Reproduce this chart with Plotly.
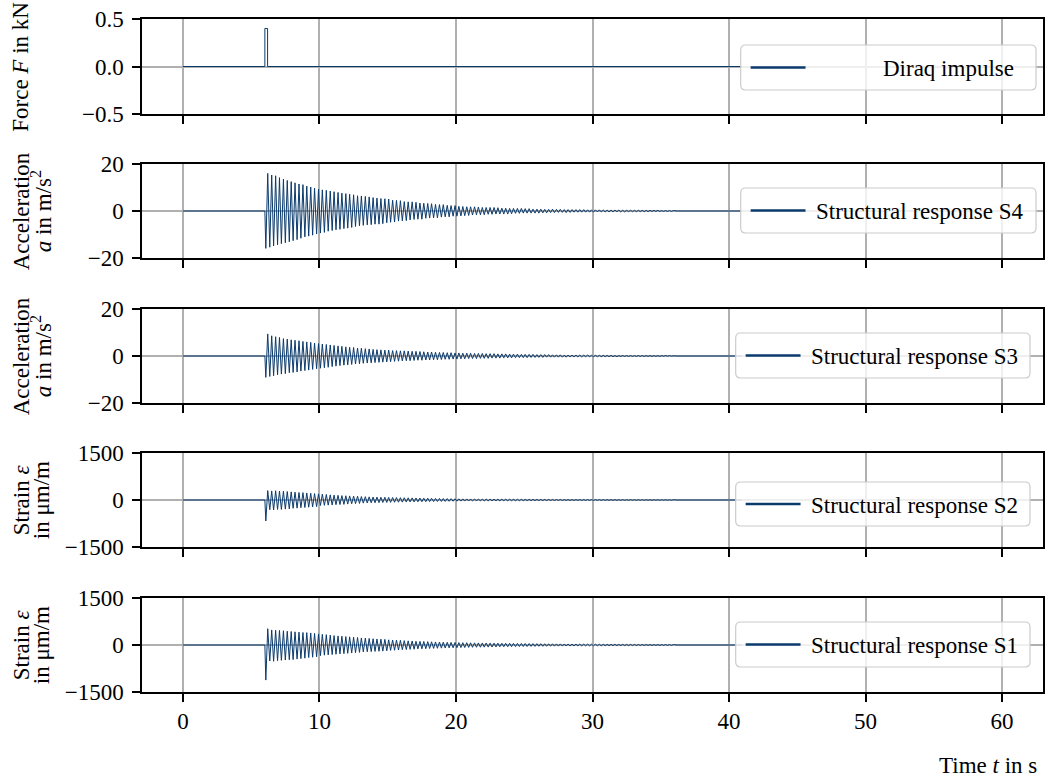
import plotly.graph_objects as go
from plotly.subplots import make_subplots

# ---------------- data ----------------
# time of pre-impulse segment, of the oscillation extrema and of the record end (s)
t_pre = [0.0, 6.0]
t_peaks = [
    6.07, 6.21, 6.36, 6.50, 6.64, 6.79, 6.93,
    7.07, 7.21, 7.36, 7.50, 7.64, 7.79, 7.93,
    8.07, 8.21, 8.36, 8.50, 8.64, 8.79, 8.93,
    9.07, 9.21, 9.36, 9.50, 9.64, 9.79, 9.93,
    10.07, 10.21, 10.36, 10.50, 10.64, 10.79, 10.93,
    11.07, 11.21, 11.36, 11.50, 11.64, 11.79, 11.93,
    12.07, 12.21, 12.36, 12.50, 12.64, 12.79, 12.93,
    13.07, 13.21, 13.36, 13.50, 13.64, 13.79, 13.93,
    14.07, 14.21, 14.36, 14.50, 14.64, 14.79, 14.93,
    15.07, 15.21, 15.36, 15.50, 15.64, 15.79, 15.93,
    16.07, 16.21, 16.36, 16.50, 16.64, 16.79, 16.93,
    17.07, 17.21, 17.36, 17.50, 17.64, 17.79, 17.93,
    18.07, 18.21, 18.36, 18.50, 18.64, 18.79, 18.93,
    19.07, 19.21, 19.36, 19.50, 19.64, 19.79, 19.93,
    20.07, 20.21, 20.36, 20.50, 20.64, 20.79, 20.93,
    21.07, 21.21, 21.36, 21.50, 21.64, 21.79, 21.93,
    22.07, 22.21, 22.36, 22.50, 22.64, 22.79, 22.93,
    23.07, 23.21, 23.36, 23.50, 23.64, 23.79, 23.93,
    24.07, 24.21, 24.36, 24.50, 24.64, 24.79, 24.93,
    25.07, 25.21, 25.36, 25.50, 25.64, 25.79, 25.93,
    26.07, 26.21, 26.36, 26.50, 26.64, 26.79, 26.93,
    27.07, 27.21, 27.36, 27.50, 27.64, 27.79, 27.93,
    28.07, 28.21, 28.36, 28.50, 28.64, 28.79, 28.93,
    29.07, 29.21, 29.36, 29.50, 29.64, 29.79, 29.93,
    30.07, 30.21, 30.36, 30.50, 30.64, 30.79, 30.93,
    31.07, 31.21, 31.36, 31.50, 31.64, 31.79, 31.93,
    32.07, 32.21, 32.36, 32.50, 32.64, 32.79, 32.93,
    33.07, 33.21, 33.36, 33.50, 33.64, 33.79, 33.93,
    34.07, 34.21, 34.36, 34.50, 34.64, 34.79, 34.93,
    35.07, 35.21, 35.36, 35.50, 35.64, 35.79, 35.93,
]
t_tail = [36.2, 40.95]
pre_values = [0.0, 0.0]
tail_values = [0.0, 0.0]

# Diraq impulse (kN)
t_force = [0.0, 6.0, 6.0, 6.2, 6.2, 40.95]
force_kN = [0.0, 0.0, 0.4, 0.4, 0.0, 0.0]

# acceleration S4 (m/s^2) at the extrema
acc_s4 = [
    -15.9, 16.0, -15.4, 15.3, -14.9, 15.0, -14.4,
    14.2, -13.9, 13.6, -13.5, 13.0, -13.1, 12.5,
    -12.6, 12.0, -12.2, 11.5, -11.6, 11.2, -11.0,
    10.6, -10.7, 10.2, -10.3, 9.7, -9.8, 9.3,
    -9.4, 9.0, -9.1, 8.8, -8.6, 8.5, -8.3,
    8.2, -8.0, 7.9, -7.8, 7.6, -7.5, 7.4,
    -7.3, 7.1, -7.0, 6.9, -6.6, 6.5, -6.3,
    6.4, -6.1, 6.2, -5.9, 6.0, -5.8, 5.7,
    -5.6, 5.5, -5.6, 5.3, -5.4, 5.2, -5.0,
    5.1, -4.8, 4.6, -4.7, 4.5, -4.3, 4.4,
    -4.2, 4.0, -4.1, 3.9, -3.8, 3.9, -3.6,
    3.7, -3.5, 3.4, -3.5, 3.3, -3.1, 3.2,
    -3.0, 3.1, -2.9, 2.8, -2.9, 2.7, -2.6,
    2.7, -2.5, 2.4, -2.5, 2.3, -2.2, 2.3,
    -2.2, 2.0, -2.1, 1.9, -2.0, 1.8, -1.9,
    1.8, -1.7, 1.8, -1.6, 1.7, -1.6, 1.5,
    -1.6, 1.5, -1.4, 1.5, -1.4, 1.5, -1.3,
    1.4, -1.3, 1.2, -1.3, 1.2, -1.3, 1.1,
    -1.2, 1.1, -1.0, 1.1, -1.0, 1.1, -0.9,
    1.0, -0.9, 1.0, -0.9, 0.8, -0.9, 0.8,
    -0.9, 0.8, -0.8, 0.7, -0.8, 0.7, -0.7,
    0.8, -0.7, 0.7, -0.6, 0.7, -0.6, 0.6,
    -0.7, 0.6, -0.6, 0.6, -0.5, 0.6, -0.5,
    0.6, -0.5, 0.6, -0.5, 0.5, -0.5, 0.5,
    -0.5, 0.5, -0.4, 0.5, -0.4, 0.4, -0.4,
    0.4, -0.4, 0.4, -0.4, 0.4, -0.3, 0.4,
    -0.4, 0.3, -0.4, 0.3, -0.3, 0.3, -0.3,
    0.3, -0.3, 0.3, -0.3, 0.3, -0.3, 0.3,
    -0.3, 0.3, -0.2, 0.3, -0.2, 0.3, -0.2,
    0.2, -0.2, 0.2, -0.2, 0.2, -0.2, 0.2,
]

# acceleration S3 (m/s^2) at the extrema
acc_s3 = [
    -9.1, 9.4, -8.7, 8.6, -8.4, 8.2, -8.0,
    7.9, -7.7, 7.4, -7.5, 7.2, -7.1, 6.9,
    -7.0, 6.7, -6.8, 6.5, -6.4, 6.2, -6.2,
    6.0, -6.0, 5.8, -5.7, 5.5, -5.4, 5.3,
    -5.2, 5.1, -5.0, 4.9, -4.8, 4.7, -4.5,
    4.5, -4.3, 4.3, -4.1, 4.1, -3.9, 3.9,
    -3.8, 3.7, -3.6, 3.6, -3.4, 3.4, -3.3,
    3.3, -3.1, 3.1, -3.0, 3.0, -2.9, 2.8,
    -2.8, 2.7, -2.7, 2.6, -2.6, 2.5, -2.5,
    2.5, -2.4, 2.3, -2.3, 2.3, -2.2, 2.2,
    -2.1, 2.2, -2.0, 2.1, -2.0, 2.0, -1.9,
    2.0, -1.8, 1.9, -1.8, 1.8, -1.7, 1.7,
    -1.7, 1.7, -1.6, 1.6, -1.6, 1.5, -1.5,
    1.5, -1.4, 1.4, -1.4, 1.4, -1.3, 1.3,
    -1.3, 1.3, -1.2, 1.2, -1.2, 1.2, -1.1,
    1.2, -1.1, 1.1, -1.1, 1.1, -1.0, 1.1,
    -1.0, 1.0, -1.0, 1.0, -0.9, 1.0, -0.9,
    0.9, -0.9, 0.9, -0.8, 0.9, -0.8, 0.8,
    -0.8, 0.8, -0.7, 0.8, -0.7, 0.7, -0.7,
    0.7, -0.7, 0.7, -0.6, 0.7, -0.6, 0.6,
    -0.6, 0.6, -0.6, 0.6, -0.5, 0.6, -0.5,
    0.5, -0.5, 0.5, -0.5, 0.5, -0.5, 0.4,
    -0.5, 0.4, -0.4, 0.4, -0.4, 0.4, -0.4,
    0.4, -0.4, 0.4, -0.3, 0.4, -0.3, 0.3,
    -0.3, 0.3, -0.3, 0.3, -0.3, 0.3, -0.3,
    0.3, -0.3, 0.3, -0.3, 0.2, -0.3, 0.2,
    -0.2, 0.2, -0.2, 0.2, -0.2, 0.2, -0.2,
    0.2, -0.2, 0.2, -0.2, 0.2, -0.2, 0.2,
    -0.2, 0.2, -0.2, 0.2, -0.2, 0.2, -0.2,
    0.2, -0.1, 0.2, -0.1, 0.2, -0.1, 0.1,
]

# strain S2 (um/m) at the extrema
strain_s2 = [
    -670, 300, -310, 290, -320, 295, -300,
    285, -300, 280, -290, 270, -285, 260,
    -265, 250, -260, 240, -245, 235, -240,
    225, -230, 215, -220, 205, -210, 195,
    -175, 185, -170, 175, -165, 165, -160,
    155, -150, 150, -145, 140, -140, 135,
    -130, 130, -120, 125, -115, 120, -110,
    110, -100, 105, -95, 100, -90, 95,
    -88, 92, -84, 88, -80, 86, -78,
    84, -76, 80, -72, 78, -70, 75,
    -68, 72, -65, 70, -62, 68, -60,
    64, -58, 62, -56, 60, -54, 57,
    -52, 55, -50, 52, -48, 50, -46,
    48, -44, 45, -42, 43, -40, 41,
    -36, 38, -35, 36, -34, 35, -33,
    34, -32, 33, -31, 32, -30, 31,
    -29, 30, -28, 29, -27, 28, -27,
    27, -26, 26, -25, 26, -25, 25,
    -24, 24, -23, 24, -23, 23, -22,
    22, -21, 22, -21, 21, -20, 21,
    -20, 20, -19, 20, -19, 19, -18,
    19, -18, 18, -17, 18, -17, 17,
    -17, 17, -16, 16, -16, 16, -15,
    16, -15, 15, -15, 15, -14, 15,
    -14, 14, -14, 14, -13, 14, -13,
    13, -13, 13, -12, 13, -12, 12,
    -12, 12, -12, 12, -11, 12, -11,
    11, -11, 11, -11, 11, -10, 11,
    -10, 10, -10, 10, -10, 10, -10,
    10, -9, 10, -9, 9, -9, 9,
]

# strain S1 (um/m) at the extrema
strain_s1 = [
    -1120, 520, -510, 480, -520, 470, -500,
    465, -490, 455, -480, 440, -470, 430,
    -465, 420, -450, 410, -435, 400, -420,
    395, -400, 385, -390, 370, -375, 355,
    -340, 340, -325, 330, -315, 315, -305,
    300, -295, 290, -285, 280, -275, 270,
    -265, 260, -255, 250, -245, 240, -235,
    225, -220, 220, -215, 210, -210, 200,
    -205, 192, -200, 185, -195, 180, -185,
    165, -172, 160, -168, 155, -160, 150,
    -150, 140, -145, 132, -140, 128, -135,
    120, -125, 115, -122, 112, -118, 108,
    -112, 102, -108, 98, -104, 95, -100,
    90, -96, 86, -92, 83, -90, 80,
    -86, 76, -82, 74, -80, 72, -77,
    70, -74, 68, -72, 66, -70, 65,
    -68, 63, -66, 61, -64, 60, -62,
    58, -58, 56, -57, 55, -55, 54,
    -53, 52, -51, 50, -50, 49, -48,
    47, -47, 45, -45, 44, -44, 43,
    -42, 42, -41, 40, -40, 39, -38,
    38, -37, 36, -36, 35, -35, 34,
    -33, 33, -32, 32, -31, 31, -30,
    30, -29, 29, -28, 28, -27, 27,
    -26, 26, -25, 25, -25, 24, -24,
    23, -23, 23, -22, 22, -22, 21,
    -21, 21, -20, 20, -20, 19, -19,
    19, -18, 18, -18, 18, -17, 17,
    -17, 17, -16, 16, -16, 16, -15,
    15, -15, 15, -14, 15, -14, 14,
]

series_labels = ["Diraq impulse", "Structural response S4", "Structural response S3",
                 "Structural response S2", "Structural response S1"]
# y-axis titles: one entry per text line (drawn left to right)
y_title_lines = [["Force <i>F</i> in kN"],
                 ["Acceleration", "<i>a</i> in m/s<sup>2</sup>"],
                 ["Acceleration", "<i>a</i> in m/s<sup>2</sup>"],
                 ["Strain <i>ε</i>", "in μm/m"],
                 ["Strain <i>ε</i>", "in μm/m"]]
y_ranges = [[-0.5, 0.5], [-20, 20], [-20, 20], [-1500, 1500], [-1500, 1500]]
y_tickvals = [[-0.5, 0.0, 0.5], [-20, 0, 20], [-20, 0, 20], [-1500, 0, 1500], [-1500, 0, 1500]]
y_ticktext = [["−0.5", "0.0", "0.5"], ["−20", "0", "20"], ["−20", "0", "20"],
              ["−1500", "0", "1500"], ["−1500", "0", "1500"]]
x_tickvals = [0, 10, 20, 30, 40, 50, 60]

# ---------------- figure ----------------
W, H = 1051, 781
L, R, T, B = 142, 1045, 19, 692          # plot area in pixels
panel_top = [19, 164, 309, 453, 598]
panel_bot = [114, 258, 403, 547, 692]

def px_x(px):
    return (px - L) / (R - L)

def px_y(py):
    return (B - py) / (B - T)

LINE = "#0b3a6c"
FONT = "Liberation Serif"
FS = 23

fig = make_subplots(rows=5, cols=1, shared_xaxes=True)

t_resp = t_pre + t_peaks + t_tail
responses = [acc_s4, acc_s3, strain_s2, strain_s1]

fig.add_trace(go.Scatter(x=t_force, y=force_kN, mode="lines", name=series_labels[0],
                         line=dict(color=LINE, width=1)), row=1, col=1)
for i, vals in enumerate(responses):
    fig.add_trace(go.Scatter(x=t_resp, y=pre_values + vals + tail_values, mode="lines",
                             name=series_labels[i + 1],
                             line=dict(color=LINE, width=1)), row=i + 2, col=1)

for i in range(5):
    yname = "yaxis" if i == 0 else f"yaxis{i + 1}"
    xname = "xaxis" if i == 0 else f"xaxis{i + 1}"
    fig.layout[yname].update(
        domain=[px_y(panel_bot[i]), px_y(panel_top[i])],
        range=y_ranges[i], tickvals=y_tickvals[i], ticktext=y_ticktext[i],
        showgrid=True, gridcolor="#b0b0b0", gridwidth=1.5, zeroline=False,
        showline=True, linecolor="black", linewidth=1.5, mirror=True,
        ticks="outside", ticklen=8, tickwidth=1.5, tickcolor="black",
        ticklabelstandoff=4,
        tickfont=dict(family=FONT, size=FS, color="black"), fixedrange=True,
    )
    fig.layout[xname].update(
        range=[-3, 63], tickvals=x_tickvals, ticktext=[str(v) for v in x_tickvals],
        showgrid=True, gridcolor="#b0b0b0", gridwidth=1.5, zeroline=False,
        showline=True, linecolor="black", linewidth=1.5, mirror=True,
        ticks="outside", ticklen=8, tickwidth=1.5, tickcolor="black",
        showticklabels=(i == 4),
        tickfont=dict(family=FONT, size=FS, color="black"),
    )

annotations = []
shapes = []
# y axis titles (aligned like the reference)
for i in range(5):
    cy = (panel_top[i] + panel_bot[i]) / 2
    lines = y_title_lines[i]
    xs = [20] if len(lines) == 1 else [21, 41]
    for cx, txt in zip(xs, lines):
        annotations.append(dict(text=txt, textangle=-90, xref="paper", yref="paper",
                                x=px_x(cx), y=px_y(cy), xanchor="center", yanchor="middle",
                                showarrow=False, font=dict(family=FONT, size=FS, color="black")))

# x axis title
annotations.append(dict(text="Time <i>t</i> in s", xref="paper", yref="paper",
                        x=px_x(1041), y=px_y(765), xanchor="right", yanchor="middle",
                        showarrow=False, font=dict(family=FONT, size=FS, color="black")))

# legends (one per panel, boxed like the reference)
leg_boxes = [(742, 1038, 45, 90, 883), (742, 1038, 188, 233, 815), (737, 1032, 333, 378, 810),
             (737, 1032, 482, 526, 810), (737, 1032, 622, 667, 810)]
rad = 5
for i, (lx, rx, ty, by, tx) in enumerate(leg_boxes):
    ax = px_x
    ay = px_y
    path = (f"M {ax(lx + rad)},{ay(ty)} L {ax(rx - rad)},{ay(ty)} Q {ax(rx)},{ay(ty)} {ax(rx)},{ay(ty + rad)} "
            f"L {ax(rx)},{ay(by - rad)} Q {ax(rx)},{ay(by)} {ax(rx - rad)},{ay(by)} "
            f"L {ax(lx + rad)},{ay(by)} Q {ax(lx)},{ay(by)} {ax(lx)},{ay(by - rad)} "
            f"L {ax(lx)},{ay(ty + rad)} Q {ax(lx)},{ay(ty)} {ax(lx + rad)},{ay(ty)} Z")
    shapes.append(dict(type="path", path=path, xref="paper", yref="paper", layer="above",
                       fillcolor="rgba(255,255,255,0.8)", line=dict(color="#cccccc", width=1.2)))
    cy = (ty + by) / 2
    shapes.append(dict(type="line", xref="paper", yref="paper", layer="above",
                       x0=ax(lx + 10), x1=ax(lx + 65), y0=ay(cy), y1=ay(cy),
                       line=dict(color=LINE, width=2.5)))
    annotations.append(dict(text=series_labels[i], xref="paper", yref="paper",
                            x=ax(tx), y=ay(cy + 1), xanchor="left", yanchor="middle",
                            showarrow=False, font=dict(family=FONT, size=FS, color="black")))

fig.update_layout(
    width=W, height=H, margin=dict(l=L, r=W - R, t=T, b=H - B, pad=0),
    plot_bgcolor="white", paper_bgcolor="white", showlegend=False,
    font=dict(family=FONT, size=FS, color="black"),
    annotations=annotations, shapes=shapes,
)

fig.write_html("out.html", config={"displayModeBar": False},
               post_script="document.body.style.margin='0';")
